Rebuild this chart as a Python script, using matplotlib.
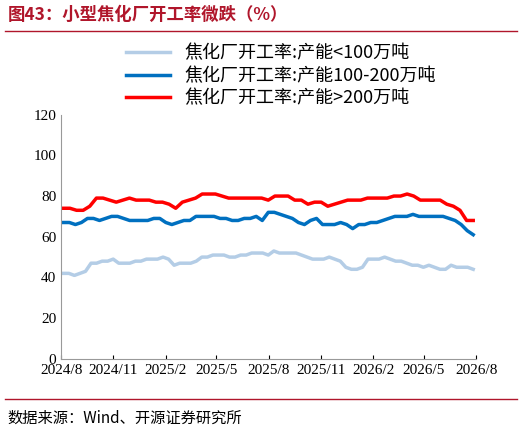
import matplotlib
matplotlib.use('Agg')
import matplotlib.pyplot as plt
import pandas as pd

plt.rcParams['font.family'] = ['Liberation Serif', 'Noto Sans CJK SC']

# 产能<100万吨
small = [42,42,41,42,43,47,47,48,48,49,47,47,47,48,48,49,49,49,50,49,46,47,47,47,48,50,50,51,51,51,
         50,50,51,51,52,52,52,51,53,52,52,52,52,51,50,49,49,49,50,49,48,45,44,44,45,49,49,49,50,49,
         48,48,47,46,46,45,46,45,44,44,46,45,45,45,44]
# 产能100-200万吨
mid = [67,67,66,67,69,69,68,69,70,70,69,68,68,68,68,69,69,67,66,67,68,68,70,70,70,70,69,69,68,68,
       69,69,70,68,72,72,71,70,69,67,66,68,69,66,66,66,67,66,64,66,66,67,67,68,69,70,70,70,71,70,
       70,70,70,70,69,68,66,63,61]
# 产能>200万吨
big = [74,74,73,73,75,79,79,78,77,78,79,78,78,78,77,77,76,74,77,78,79,81,81,81,80,79,79,79,79,79,
       79,78,80,80,80,78,78,76,77,77,75,76,77,78,78,78,79,79,79,79,80,80,81,80,78,78,78,78,76,75,
       73,68,68]

start, end = pd.Timestamp('2024-08-05'), pd.Timestamp('2026-07-27')
tick_dates = pd.date_range('2024-08-01', '2026-08-01', freq='3MS')
tick_labels = ['2024/8','2024/11','2025/2','2025/5','2025/8','2025/11','2026/2','2026/5','2026/8']

def dates(n):
    return pd.date_range(start, end, periods=n)

fig = plt.figure(figsize=(5.22, 4.36), dpi=100)
ax = fig.add_axes([0.117, 0.177, 0.795, 0.56])
ax.plot(dates(len(small)), small, color='#B4CDE6', lw=2.5, label='焦化厂开工率:产能<100万吨')
ax.plot(dates(len(mid)), mid, color='#0070C0', lw=2.5, label='焦化厂开工率:产能100-200万吨')
ax.plot(dates(len(big)), big, color='#FF0000', lw=2.5, label='焦化厂开工率:产能>200万吨')

ax.set_ylim(0, 120)
ax.set_yticks(range(0, 121, 20))
ax.set_xlim(pd.Timestamp('2024-08-01'), pd.Timestamp('2026-08-01'))
ax.set_xticks(tick_dates)
ax.set_xticklabels(tick_labels)
ax.tick_params(labelsize=11, length=0)
ax.tick_params(axis='x', length=3, direction='in')
for s in ['top', 'right']:
    ax.spines[s].set_visible(False)
for s in ['left', 'bottom']:
    ax.spines[s].set_color('#999999')

leg = ax.legend(loc='lower left', bbox_to_anchor=(0.14, 1.0), frameon=False, fontsize=13,
                handlelength=2.4, labelspacing=0.25, borderaxespad=0)
for t in leg.get_texts():
    t.set_family(['Noto Sans CJK SC', 'DejaVu Sans'])

fig.text(0.015, 0.965, '图43：小型焦化厂开工率微跌（%）', fontsize=12.5, fontweight='bold',
         color='#B0162B', family=['Noto Sans CJK SC', 'DejaVu Sans'], va='center')
fig.add_artist(plt.Line2D([0.01, 0.99], [0.93, 0.93], color='#B0162B', lw=1))
fig.add_artist(plt.Line2D([0.01, 0.99], [0.085, 0.085], color='#B0162B', lw=1))
fig.text(0.015, 0.04, '数据来源：Wind、开源证券研究所', fontsize=11,
         family=['Noto Sans CJK SC', 'DejaVu Sans'], va='center')

fig.savefig('out.png', dpi=100)
